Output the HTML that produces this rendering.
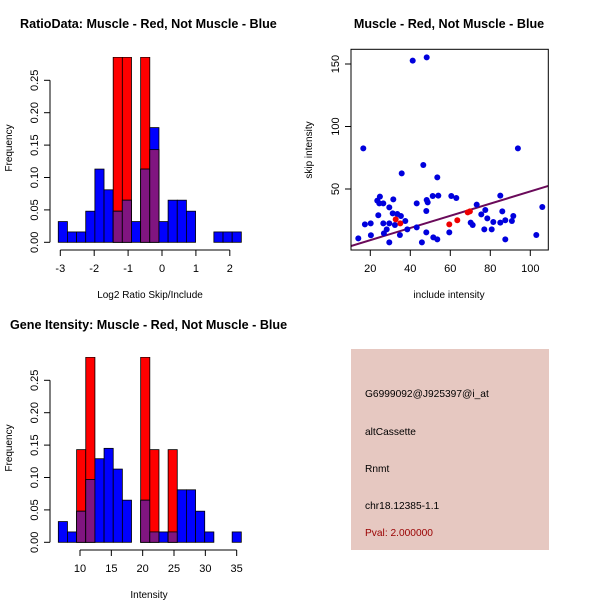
<!DOCTYPE html>
<html><head><meta charset="utf-8"><style>
body{margin:0;background:#fff;}
svg{display:block;font-family:"Liberation Sans",sans-serif;}
</style></head><body>
<svg id="c" width="600" height="600" xmlns="http://www.w3.org/2000/svg"></svg>
<script>
// Top-left histogram data (log2 ratio)
const ratioBinStart = -3.06;
const ratioBinWidth = 0.27;
const ratioBlue = [0.032,0.016,0.016,0.048,0.113,0.081,0.048,0.065,0.032,0.113,0.177,0.032,0.065,0.065,0.048,0,0,0.016,0.016,0.016];
const ratioRed  = [0,0,0,0,0,0,0.2857,0.2857,0,0.2857,0.143,0,0,0,0,0,0,0,0,0];
const ratioXTicks = [-3,-2,-1,0,1,2];
const freqTicks = ["0.00","0.05","0.10","0.15","0.20","0.25"];
// Bottom-left histogram data (intensity)
const intBinStart = 6.54;
const intBinWidth = 1.46;
const intBlue = [0.032,0.016,0.048,0.097,0.129,0.145,0.113,0.065,0,0.065,0.016,0.016,0.016,0.081,0.081,0.048,0.016,0,0,0.016];
const intRed  = [0,0,0.143,0.2857,0,0,0,0,0,0.2857,0.143,0,0.143,0,0,0,0,0,0,0];
const intXTicks = [10,15,20,25,30,35];
// Scatter data
const blueX = [14,17.3,16.5,20.2,20.3,23.5,24.8,24,24.5,26.5,26.5,26.8,28.2,29.5,29.5,29.5,31.5,31.2,32.3,33.5,35.3,34.8,35.7,37.5,38.5,41.2,43.2,43.2,46.5,45.8,48.2,48.2,48.7,48,48,51.2,51.5,53.5,53.5,54,60.5,63,59.5,73.2,70.2,71.2,75.5,77.5,78.5,77,80.7,81.5,85,85,86,87.5,87.5,90.8,91.5,93.8,103,106];
const blueY = [10.5,21.7,82.5,22.5,13,40.7,43.9,29,38.5,38.5,22.5,14.5,17.7,35.3,22.5,7.3,41.7,30.5,21.2,30,28.4,13.2,62.5,24.4,17.7,152.7,38.5,19.3,69.2,7.3,155.3,41.2,39.3,32.4,15.3,44.4,11.3,9.7,59.3,44.7,44.4,42.8,15.3,37.5,23.1,21.2,29.7,33.2,26.5,17.7,17.7,23.6,44.7,23.1,32.1,25,9.7,24.4,28.4,82.5,13.2,35.6];
const redX = [32.7,35,59.5,63.5,68.7,69.8];
const redY = [25.7,22.5,21.7,25,31.3,32.1];
const fitLine = [-0.64, 0.487]; // intercept, slope
const scXTicks = [20,40,60,80,100];
const scYTicks = [50,100,150];

const svg = document.getElementById('c');
const NS = 'http://www.w3.org/2000/svg';
function mk(tag, attrs, parent){const e=document.createElementNS(NS,tag);for(const k in attrs)e.setAttribute(k,attrs[k]);(parent||svg).appendChild(e);return e;}
function txt(x,y,s,attrs,parent){const t=mk('text',Object.assign({x:x,y:y,'font-size':11,fill:'#000'},attrs||{}),parent);t.textContent=s;return t;}

function hist(opts){
  const g=mk('g',{});
  
  
  const sx=v=>opts.x0+(v-opts.xv0)*opts.xs;
  const sy=v=>opts.y0-v*opts.ys;
  const clipId=opts.name+'-clip';
  const cp=mk('clipPath',{id:clipId},g);mk('rect',{x:0,y:opts.top,width:600,height:300},cp);
  const bars=mk('g',{'clip-path':'url(#'+clipId+')'},g);
  for(let i=0;i<opts.blue.length;i++){
    const a=sx(opts.start+i*opts.w), b=sx(opts.start+(i+1)*opts.w);
    const bh=opts.blue[i], rh=opts.red[i];
    if(rh>0){const r=mk('rect',{x:a,y:sy(rh),width:b-a,height:sy(0)-sy(rh),fill:'#ff0000',stroke:'#000','stroke-width':0.8},bars);
      }
    if(bh>0){const r=mk('rect',{x:a,y:sy(bh),width:b-a,height:sy(0)-sy(bh),fill:'#0000ff',stroke:'#000','stroke-width':0.8},bars);
      }
    const m=Math.min(bh,rh);
    if(m>0){const r=mk('rect',{x:a,y:sy(m),width:b-a,height:sy(0)-sy(m),fill:'#801580',stroke:'#000','stroke-width':0.8},bars);
      }
  }
  const ya=mk('g',{},g);
  mk('line',{x1:opts.yaxX,x2:opts.yaxX,y1:sy(0),y2:sy(0.25),stroke:'#000'},ya);
  freqTicks.forEach((s,i)=>{const v=i*0.05,y=sy(v);
    mk('line',{x1:opts.yaxX-6,x2:opts.yaxX,y1:y,y2:y,stroke:'#000'},ya);
    txt(opts.yaxX-12,y,s,{'text-anchor':'middle',transform:'rotate(-90 '+(opts.yaxX-12)+' '+y+')'},ya);});
  const xa=mk('g',{},g);
  const t=opts.ticks;
  mk('line',{x1:sx(t[0]),x2:sx(t[t.length-1]),y1:opts.xaxY,y2:opts.xaxY,stroke:'#000'},xa);
  t.forEach(v=>{mk('line',{x1:sx(v),x2:sx(v),y1:opts.xaxY,y2:opts.xaxY+6,stroke:'#000'},xa);
    txt(sx(v),opts.xaxY+22,String(v),{'text-anchor':'middle'},xa);});
}

let e;
e=txt(20,28,'RatioData: Muscle - Red, Not Muscle - Blue',{'font-weight':'bold','font-size':12.6});

e=txt(449,28,'Muscle - Red, Not Muscle - Blue',{'font-weight':'bold','font-size':12.6,'text-anchor':'middle'});

e=txt(10,329,'Gene Itensity: Muscle - Red, Not Muscle - Blue',{'font-weight':'bold','font-size':12.6});


hist({name:'ratio-histogram',x0:60.3,xv0:-3,xs:33.9,y0:242.3,ys:648,top:57,start:ratioBinStart,w:ratioBinWidth,blue:ratioBlue,red:ratioRed,ticks:ratioXTicks,yaxX:50,xaxY:250});
e=txt(150,298,'Log2 Ratio Skip/Include',{'text-anchor':'middle','font-size':10});

e=txt(12,148,'Frequency',{'text-anchor':'middle','font-size':10,transform:'rotate(-90 12 148)'});


hist({name:'intensity-histogram',x0:80,xv0:10,xs:6.267,y0:542.3,ys:648,top:357,start:intBinStart,w:intBinWidth,blue:intBlue,red:intRed,ticks:intXTicks,yaxX:50,xaxY:550});
e=txt(149,598,'Intensity',{'text-anchor':'middle','font-size':10});

e=txt(12,448,'Frequency',{'text-anchor':'middle','font-size':10,transform:'rotate(-90 12 448)'});


const sg=mk('g',{});


const L=351,R=548.3,T=49.3,B=250;
const px=v=>370.3+(v-20)*2;
const py=v=>189-(v-50)*1.25;
const scp=mk('clipPath',{id:'scclip'},sg);mk('rect',{x:L,y:T,width:R-L,height:B-T},scp);
const fl=mk('line',{x1:L,y1:py(fitLine[0]+fitLine[1]*((L-370.3)/2+20)),x2:R,y2:py(fitLine[0]+fitLine[1]*((R-370.3)/2+20)),stroke:'#6a0a5a','stroke-width':2,'clip-path':'url(#scclip)'},sg);

for(let i=0;i<blueX.length;i++){
  const c=mk('circle',{cx:px(blueX[i]),cy:py(blueY[i]),r:3,fill:'#0000dd'},sg);
  
}
for(let i=0;i<redX.length;i++){
  const c=mk('circle',{cx:px(redX[i]),cy:py(redY[i]),r:3,fill:'#ee0000'},sg);
  
}
const box=mk('rect',{x:L,y:T,width:R-L,height:B-T,fill:'none',stroke:'#000'},sg);

scXTicks.forEach(v=>{mk('line',{x1:px(v),x2:px(v),y1:B,y2:B+6,stroke:'#000'},sg);txt(px(v),B+22,String(v),{'text-anchor':'middle'},sg);});
scYTicks.forEach(v=>{mk('line',{x1:L-6,x2:L,y1:py(v),y2:py(v),stroke:'#000'},sg);txt(L-12,py(v),String(v),{'text-anchor':'middle',transform:'rotate(-90 '+(L-12)+' '+py(v)+')'},sg);});
e=txt(449,298,'include intensity',{'text-anchor':'middle','font-size':10});

e=txt(312,150,'skip intensity',{'text-anchor':'middle','font-size':10,transform:'rotate(-90 312 150)'});


const ib=mk('g',{});


mk('rect',{x:351,y:349,width:198,height:201,fill:'#e6c8c1'},ib);
const lines=[['G6999092@J925397@i_at',397,'#000'],['altCassette',435,'#000'],['Rnmt',472,'#000'],['chr18.12385-1.1',509,'#000'],['Pval: 2.000000',536,'#990000']];
const names=['probe-id','event-type','gene-name','location','pval'];
lines.forEach((l,i)=>{const t=txt(365,l[1],l[0],{'font-size':10.2,fill:l[2]},ib);
  });
</script>
</body></html>
